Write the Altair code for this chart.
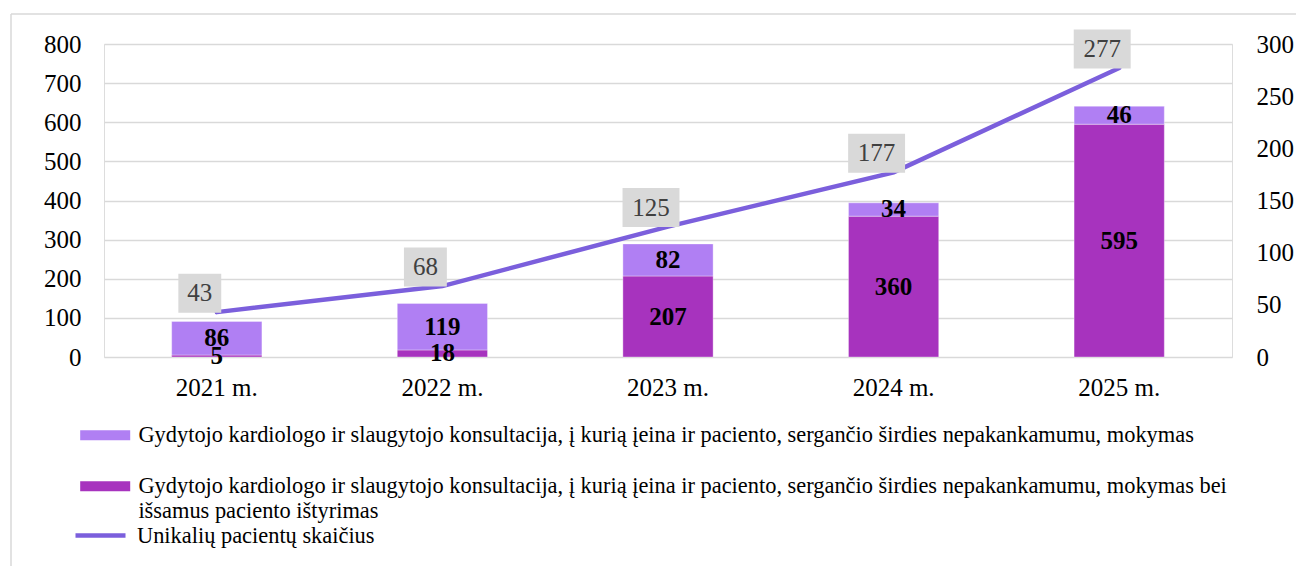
import altair as alt
import pandas as pd

years = ["2021 m.", "2022 m.", "2023 m.", "2024 m.", "2025 m."]
dark_vals = [5, 18, 207, 360, 595]
light_vals = [86, 119, 82, 34, 46]
patients = [43, 68, 125, 177, 277]

s_light = "Gydytojo kardiologo ir slaugytojo konsultacija, į kurią įeina ir paciento, sergančio širdies nepakankamumu, mokymas"
s_dark = "Gydytojo kardiologo ir slaugytojo konsultacija, į kurią įeina ir paciento, sergančio širdies nepakankamumu, mokymas bei išsamus paciento ištyrimas"
s_dark_lines = [
    "Gydytojo kardiologo ir slaugytojo konsultacija, į kurią įeina ir paciento, sergančio širdies nepakankamumu, mokymas bei",
    "išsamus paciento ištyrimas",
]
s_line = "Unikalių pacientų skaičius"

C_LIGHT = "#B07FF3"
C_DARK = "#A733BE"
C_LINE = "#7B5FDC"
C_BOX = "#D9D9D9"
FONT = "Liberation Serif"
FS = 25
LFS = 22.4

rows = []
for y, d, l in zip(years, dark_vals, light_vals):
    rows.append({"year": y, "series": s_dark, "value": d, "ord": 0})
    rows.append({"year": y, "series": s_light, "value": l, "ord": 1})
bars_df = pd.DataFrame(rows)
line_df = pd.DataFrame({"year": years, "patients": patients, "series": [s_line] * len(years)})

xscale = alt.Scale(domain=years, paddingInner=0.6, paddingOuter=0.3)
x_axis = alt.Axis(title=None, labelAngle=0, ticks=False, domain=False,
                  labelPadding=18, labelFontSize=FS, labelFont=FONT,
                  labelColor="#000000")
x_enc = alt.X("year:N", scale=xscale, sort=years, axis=x_axis)

yl_scale = alt.Scale(domain=[0, 800], nice=False)
yl_axis = alt.Axis(title=None, values=list(range(0, 801, 100)), ticks=False,
                   domain=False, labelPadding=23, labelFontSize=FS,
                   labelFont=FONT, labelColor="#000000",
                   gridColor=C_BOX, gridWidth=1.5)

yr_scale = alt.Scale(domain=[0, 300], nice=False)
yr_axis = alt.Axis(title=None, values=list(range(0, 301, 50)), ticks=False,
                   domain=False, grid=False, labelPadding=24, labelFontSize=FS,
                   labelFont=FONT, labelColor="#000000", orient="right")

base_bars = alt.Chart(bars_df).transform_stack(
    stack="value", groupby=["year"], as_=["v0", "v1"],
    sort=[alt.SortField("ord", order="ascending")]
).transform_calculate(mid="(datum.v0 + datum.v1) / 2")

label_expr = (
    "datum.label == '" + s_dark + "' ? ['" + s_dark_lines[0] + "', '" + s_dark_lines[1] + "'] : datum.label"
)

bars = base_bars.mark_bar(stroke="#FFFFFF", strokeOpacity=0.35, strokeWidth=1).encode(
    x=x_enc,
    y=alt.Y("v0:Q", scale=yl_scale, axis=yl_axis),
    y2="v1:Q",
    color=alt.Color("series:N",
                    scale=alt.Scale(domain=[s_light, s_dark], range=[C_LIGHT, C_DARK]),
                    legend=alt.Legend(title=None, orient="none", legendX=-10, legendY=380,
                                      direction="vertical",
                                      symbolType="M-2.5,-0.5H2.5V0.5H-2.5Z",
                                      symbolSize=400, symbolStrokeWidth=0,
                                      labelFont=FONT, labelFontSize=LFS,
                                      labelColor="#000000", labelLimit=1300,
                                      labelOffset=22, rowPadding=28,
                                      labelExpr=label_expr)),
)

bar_text = base_bars.mark_text(font=FONT, fontSize=FS, fontWeight="bold",
                               color="#000000", baseline="middle").encode(
    x=x_enc,
    y=alt.Y("mid:Q", scale=yl_scale, axis=yl_axis),
    text="value:Q",
)

# light grey chart-area frame (left and top edges, as in the reference)
frame_df = pd.DataFrame({"k": [0]})
frame_left = alt.Chart(frame_df).mark_rule(color=C_BOX, strokeWidth=1.5).encode(
    x=alt.value(-93), y=alt.value(-30), y2=alt.value(522)
)
frame_top = alt.Chart(frame_df).mark_rule(color=C_BOX, strokeWidth=1.5).encode(
    x=alt.value(-93), x2=alt.value(1192), y=alt.value(-30)
)

left = alt.layer(frame_left, frame_top, bars, bar_text)

line_base = alt.Chart(line_df).transform_calculate(
    digits="toString(length(toString(datum.patients)))"
)
yr = alt.Y("patients:Q", scale=yr_scale, axis=yr_axis)

line = line_base.mark_line(strokeWidth=4.5, strokeCap="round").encode(
    x=x_enc,
    y=yr,
    stroke=alt.Stroke("series:N", scale=alt.Scale(domain=[s_line], range=[C_LINE]),
                      legend=alt.Legend(title=None, orient="none", legendX=-31, legendY=464,
                                        symbolType="stroke", symbolSize=2500,
                                        symbolStrokeWidth=4.5,
                                        labelFont=FONT, labelFontSize=LFS,
                                        labelColor="#000000", labelLimit=1300,
                                        labelOffset=9)),
)

box2 = "M-1.1,-1H1.1V1H-1.1Z"
box3 = "M-1.46,-1H1.46V1H-1.46Z"
boxes = line_base.mark_point(filled=True, opacity=1, color=C_BOX, size=1521,
                             xOffset=-17, yOffset=-19, strokeWidth=0).encode(
    x=x_enc,
    y=yr,
    shape=alt.Shape("digits:N", scale=alt.Scale(domain=["2", "3"], range=[box2, box3]),
                    legend=None),
)
line_text = line_base.mark_text(font=FONT, fontSize=FS, color="#404040",
                                baseline="middle", dx=-17, dy=-19).encode(
    x=x_enc,
    y=yr,
    text="patients:Q",
)

right = alt.layer(line, boxes, line_text)

chart = alt.layer(left, right).resolve_scale(
    y="independent", color="independent", stroke="independent", shape="independent"
).properties(
    width=1128, height=313,
    padding={"left": 2, "top": 5, "right": 0, "bottom": 0},
).configure_view(stroke=None).configure(background="#FFFFFF")

chart.save("out.html", embed_options={"renderer": "svg", "actions": False})
